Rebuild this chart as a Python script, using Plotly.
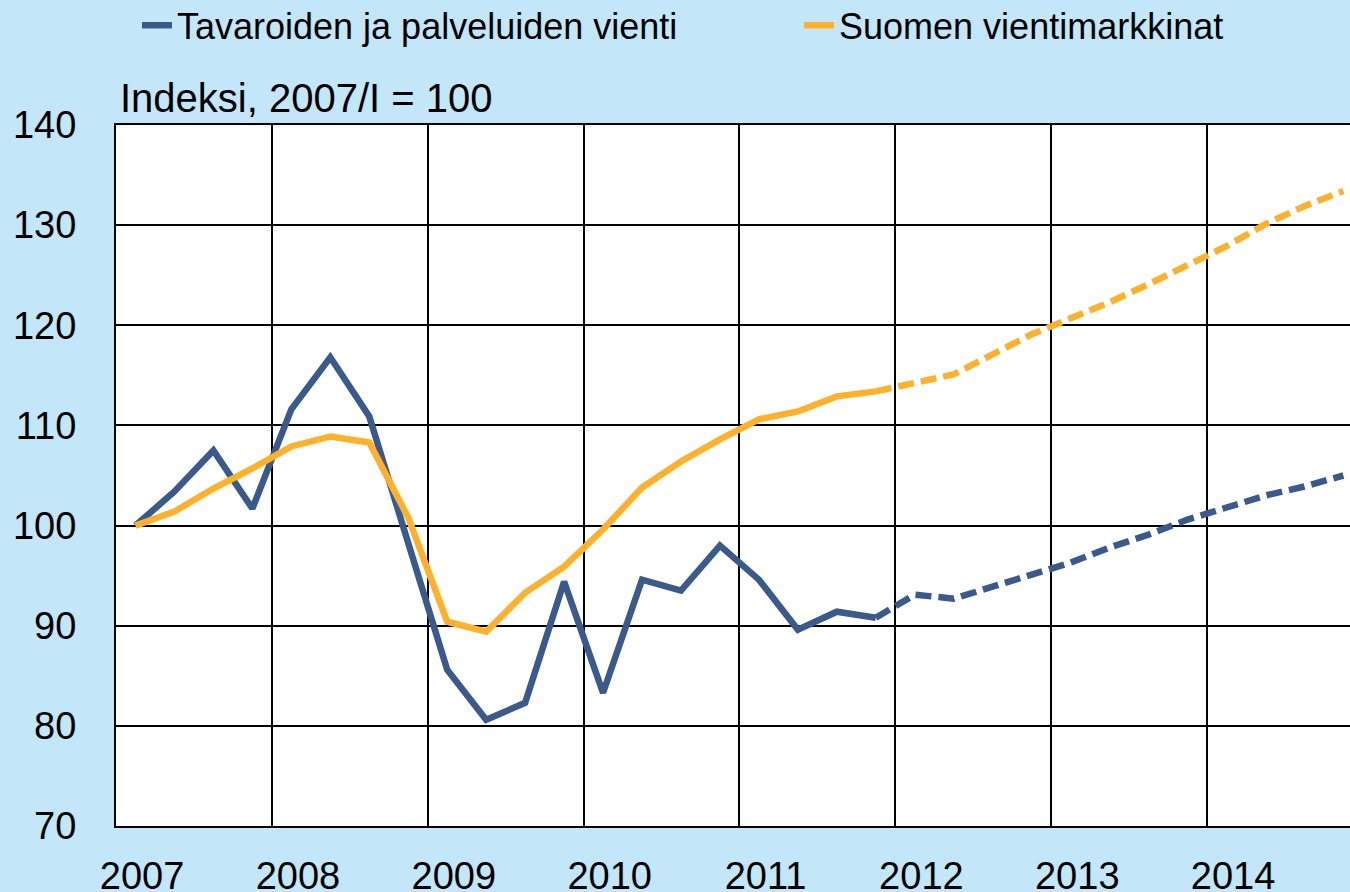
import plotly.graph_objects as go

# Quarterly index, 2007/I = 100. Actual data 2007/I-2011/IV, forecast after that.
years = [2007, 2008, 2009, 2010, 2011, 2012, 2013, 2014]
quarters = [f"{y}/{q}" for y in years for q in ("I", "II", "III", "IV")]

vienti_actual = [100.0, 103.4, 107.5, 101.7, 111.6, 116.8, 110.9, 98.0, 85.6, 80.6,
                 82.3, 94.4, 83.3, 94.6, 93.5, 98.0, 94.6, 89.6, 91.4, 90.8]
vienti_forecast = [90.8, 93.1, 92.7, 93.9, 95.0, 96.3, 97.8, 99.1, 100.6, 101.8,
                   103.0, 103.9, 105.0]

markkinat_actual = [100.0, 101.4, 103.7, 105.7, 107.9, 108.9, 108.3, 100.8, 90.4, 89.4,
                    93.3, 95.9, 99.6, 103.8, 106.4, 108.6, 110.6, 111.4, 112.9, 113.4]
markkinat_forecast = [113.4, 114.3, 115.1, 117.1, 119.1, 120.7, 122.3, 124.1, 126.0,
                      127.9, 130.1, 131.9, 133.4]

y_ticks = [70, 80, 90, 100, 110, 120, 130, 140]

BLUE = "#3A5A8C"
ORANGE = "#FFB12B"
BG = "#C3E6F8"
FONT = "Liberation Sans, Arial, sans-serif"

n_act = len(vienti_actual)
x_act = list(range(n_act))
x_fc = list(range(n_act - 1, n_act - 1 + len(vienti_forecast)))

fig = go.Figure()
series = [
    ("Tavaroiden ja palveluiden vienti", vienti_actual, vienti_forecast, BLUE, "legend"),
    ("Suomen vientimarkkinat", markkinat_actual, markkinat_forecast, ORANGE, "legend2"),
]
for name, act, fc, color, leg in series:
    fig.add_trace(go.Scatter(
        x=x_act, y=act, mode="lines", name=name, legend=leg, legendgroup=leg,
        line=dict(color=color, width=6.5),
        text=quarters[:n_act], hovertemplate="%{text}: %{y}<extra></extra>",
    ))
    fig.add_trace(go.Scatter(
        x=x_fc, y=fc, mode="lines", name=name, legend=leg, legendgroup=leg,
        showlegend=False,
        line=dict(color=color, width=6.5, dash="16px,7px"),
        text=quarters[n_act - 1:], hovertemplate="%{text}: %{y}<extra></extra>",
    ))

fig.add_annotation(
    text="Indeksi, 2007/I = 100", xref="paper", yref="paper",
    x=0.002, y=1.0385, xanchor="left", yanchor="middle", showarrow=False,
    font=dict(size=40, color="black", family=FONT),
)

legend_style = dict(
    orientation="h", y=1.142, xanchor="left", yanchor="middle",
    font=dict(size=36), bgcolor="rgba(0,0,0,0)", itemwidth=30,
)

fig.update_layout(
    width=1350, height=892,
    paper_bgcolor=BG, plot_bgcolor="white",
    margin=dict(l=116, r=0, t=125, b=66, autoexpand=False),
    font=dict(family=FONT, color="black"),
    showlegend=True,
    legend=dict(x=0.017, **legend_style),
    legend2=dict(x=0.5535, **legend_style),
    xaxis=dict(
        range=[-0.5, 31.17],
        tickvals=[4 * k + 0.17 for k in range(len(years))],
        ticktext=[str(y) for y in years],
        showgrid=False, ticks="", ticklabelstandoff=15,
        tickfont=dict(size=38),
        minor=dict(tick0=-0.5, dtick=4, showgrid=True, gridcolor="black",
                   gridwidth=1.5, ticks=""),
        showline=True, linecolor="black", linewidth=2, mirror=True,
        zeroline=False, fixedrange=True,
    ),
    yaxis=dict(
        range=[70, 140], tickvals=y_ticks,
        showgrid=True, gridcolor="black", gridwidth=1.5,
        ticks="", ticklabelstandoff=30, tickfont=dict(size=38),
        showline=True, linecolor="black", linewidth=2,
        zeroline=False, fixedrange=True,
    ),
)

# drop the default page margin so the 1350x892 figure fills the window exactly
fig.write_html(
    "out.html",
    config={"displayModeBar": False},
    post_script="document.body.style.margin='0';document.body.style.overflow='hidden';",
)
